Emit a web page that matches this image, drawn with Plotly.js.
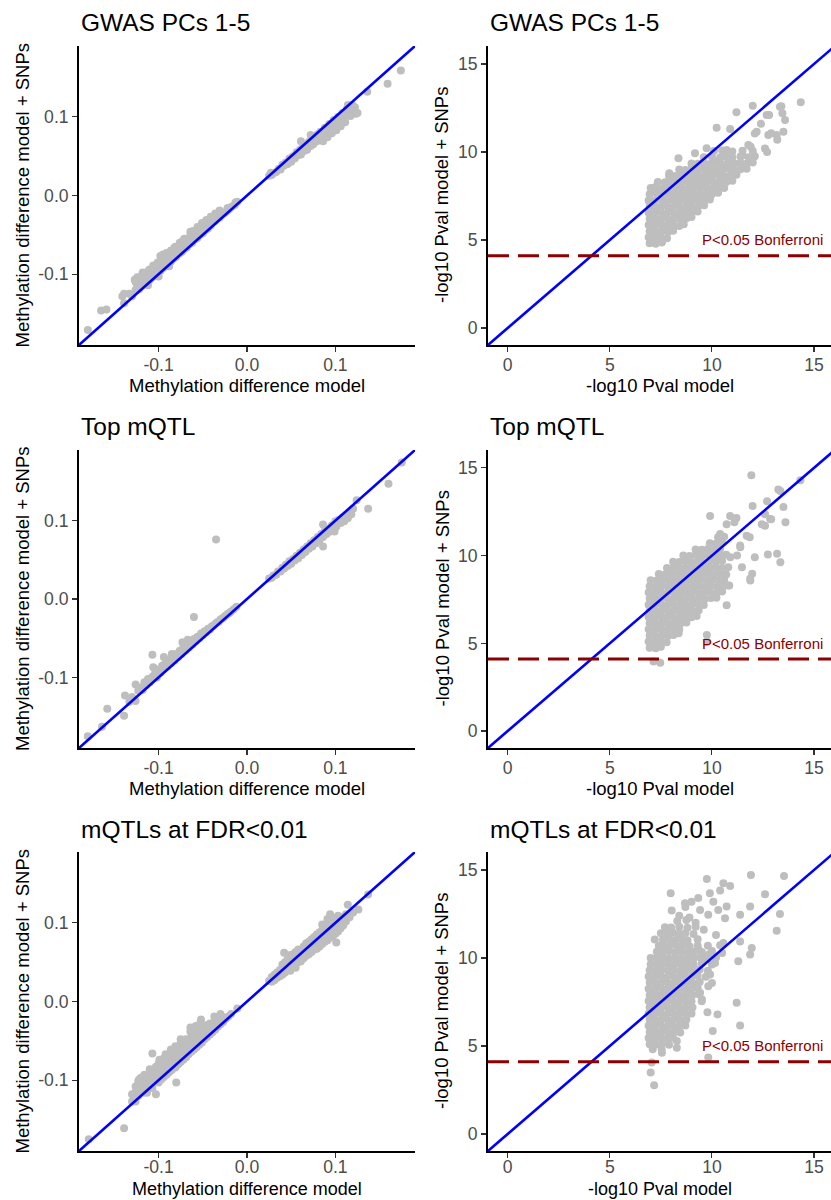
<!DOCTYPE html>
<html><head><meta charset="utf-8">
<script src="https://cdn.plot.ly/plotly-3.0.1.min.js"></script>
<style>html,body{margin:0;padding:0;background:#fff}</style>
</head><body><div id="chart" style="width:831px;height:1200px"></div>
<script>
// ---------------- data ----------------
const panelTitles = ['GWAS PCs 1-5', 'Top mQTL', 'mQTLs at FDR<0.01'];
const diffXTitle = 'Methylation difference model';
const diffYTitle = 'Methylation difference model + SNPs';
const pvalXTitle = '-log10 Pval model';
const pvalYTitle = '-log10 Pval model + SNPs';
const diffTicks = [-0.1, 0, 0.1];
const diffTickText = ['-0.1', '0.0', '0.1'];
const pvalTicks = [0, 5, 10, 15];
const pvalTickText = ['0', '5', '10', '15'];
const bonferroniY = 4.1;
const bonferroniLabel = 'P<0.05 Bonferroni';
const bonferroniLabelPos = [12.5, 5.0];

// Panel: GWAS PCs 1-5, methylation difference [model, model + SNPs]
const gwasDiff = [
[-0.180,-0.171],[-0.165,-0.146],[-0.159,-0.145],[-0.141,-0.128],[-0.139,-0.137],[-0.139,-0.125],[-0.133,-0.125],[-0.130,-0.128],
[-0.127,-0.107],[-0.126,-0.120],[-0.126,-0.110],[-0.124,-0.104],[-0.124,-0.114],[-0.122,-0.119],[-0.121,-0.104],[-0.120,-0.109],[-0.119,-0.115],[-0.118,-0.098],
[-0.117,-0.105],[-0.116,-0.112],[-0.116,-0.099],[-0.114,-0.100],[-0.113,-0.109],[-0.112,-0.114],[-0.111,-0.103],[-0.111,-0.095],[-0.110,-0.094],
[-0.110,-0.107],[-0.108,-0.096],[-0.107,-0.104],[-0.106,-0.089],[-0.105,-0.099],[-0.104,-0.102],[-0.102,-0.090],[-0.101,-0.098],[-0.101,-0.085],
[-0.100,-0.103],[-0.099,-0.093],[-0.098,-0.077],[-0.098,-0.096],[-0.096,-0.085],[-0.096,-0.080],[-0.095,-0.075],[-0.095,-0.092],[-0.093,-0.087],
[-0.092,-0.090],[-0.091,-0.073],[-0.091,-0.075],[-0.090,-0.080],[-0.089,-0.086],[-0.088,-0.090],[-0.087,-0.081],[-0.086,-0.084],[-0.086,-0.070],
[-0.084,-0.074],[-0.083,-0.080],[-0.082,-0.066],[-0.081,-0.075],[-0.081,-0.065],[-0.080,-0.078],[-0.078,-0.068],[-0.077,-0.074],[-0.076,-0.060],
[-0.075,-0.069],[-0.074,-0.072],[-0.073,-0.058],[-0.072,-0.063],[-0.071,-0.068],[-0.071,-0.055],[-0.069,-0.063],[-0.068,-0.066],
[-0.066,-0.057],[-0.065,-0.062],[-0.064,-0.050],[-0.064,-0.046],[-0.063,-0.057],[-0.062,-0.060],[-0.061,-0.045],[-0.060,-0.051],[-0.059,-0.056],
[-0.057,-0.052],[-0.056,-0.054],[-0.056,-0.040],[-0.054,-0.046],[-0.053,-0.050],[-0.051,-0.046],[-0.051,-0.035],[-0.050,-0.048],[-0.048,-0.040],
[-0.047,-0.044],[-0.046,-0.031],[-0.045,-0.040],[-0.044,-0.042],[-0.042,-0.035],[-0.041,-0.038],[-0.041,-0.027],[-0.039,-0.034],[-0.037,-0.033],
[-0.036,-0.023],[-0.035,-0.031],[-0.033,-0.028],[-0.031,-0.028],[-0.031,-0.019],[-0.029,-0.025],[-0.027,-0.023],[-0.025,-0.022],[-0.023,-0.020],
[-0.022,-0.016],[-0.021,-0.018],[-0.019,-0.016],[-0.017,-0.014],[-0.014,-0.012],[-0.013,-0.009],[-0.011,-0.008],
[0.025,0.025],[0.027,0.029],[0.028,0.026],[0.031,0.029],[0.033,0.030],[0.036,0.034],[0.038,0.033],[0.040,0.039],[0.042,0.038],
[0.044,0.042],[0.046,0.040],[0.048,0.047],[0.050,0.043],[0.052,0.050],[0.054,0.047],[0.056,0.055],[0.058,0.051],
[0.060,0.058],[0.061,0.052],[0.061,0.069],[0.063,0.061],[0.065,0.057],[0.067,0.064],[0.068,0.058],[0.070,0.068],[0.072,0.063],[0.072,0.077],
[0.074,0.071],[0.075,0.065],[0.077,0.074],[0.079,0.069],[0.080,0.078],[0.081,0.071],[0.083,0.081],[0.085,0.076],
[0.086,0.069],[0.088,0.086],[0.090,0.081],[0.091,0.074],[0.093,0.091],[0.095,0.086],[0.096,0.079],[0.098,0.096],
[0.100,0.091],[0.101,0.083],[0.103,0.100],[0.104,0.090],[0.105,0.095],[0.106,0.088],[0.108,0.105],[0.110,0.100],[0.111,0.093],
[0.113,0.110],[0.114,0.115],[0.115,0.105],[0.117,0.101],[0.119,0.115],[0.121,0.110],[0.122,0.112],[0.123,0.104],[0.125,0.105],
[0.136,0.132],[0.159,0.142],[0.174,0.159]
];

// Panel: GWAS PCs 1-5, -log10 P [model, model + SNPs]
const gwasPval = [
[6.95,4.82],[7.25,4.78],[7.55,4.85],
[6.9,5.15],[7.2,5.12],[7.5,5.18],[7.8,5.1],
[6.95,5.5],[7.25,5.47],[7.55,5.53],[7.85,5.45],[8.1,5.52],
[6.9,5.85],[7.2,5.83],[7.5,5.88],[7.8,5.82],[8.1,5.87],[8.4,5.8],[8.62,5.9],
[6.95,6.2],[7.25,6.18],[7.55,6.23],[7.85,6.17],[8.15,6.22],[8.45,6.16],[8.75,6.24],[9.0,6.3],
[6.9,6.55],[7.2,6.53],[7.5,6.58],[7.8,6.52],[8.1,6.57],[8.4,6.51],[8.7,6.56],[9.0,6.6],[9.3,6.62],
[6.95,6.9],[7.25,6.88],[7.55,6.93],[7.85,6.87],[8.15,6.92],[8.45,6.86],[8.75,6.91],[9.05,6.89],[9.35,6.94],[9.62,6.98],
[6.9,7.25],[7.2,7.23],[7.5,7.28],[7.8,7.22],[8.1,7.27],[8.4,7.21],[8.7,7.26],[9.0,7.24],[9.3,7.29],[9.6,7.23],[9.9,7.3],
[6.95,7.6],[7.3,7.62],[7.6,7.57],[7.9,7.63],[8.2,7.58],[8.5,7.61],[8.8,7.56],[9.1,7.62],[9.4,7.59],[9.7,7.63],[10.0,7.6],[10.3,7.68],
[7.0,7.95],[7.3,7.97],[7.6,7.92],[7.9,7.98],[8.2,7.93],[8.5,7.96],[8.8,7.91],[9.1,7.97],[9.4,7.94],[9.7,7.98],[10.0,7.92],[10.3,7.97],[10.6,7.95],
[7.35,8.3],[7.7,8.28],[8.0,8.33],[8.3,8.27],[8.6,8.32],[8.9,8.26],[9.2,8.31],[9.5,8.29],[9.8,8.34],[10.1,8.28],[10.4,8.32],[10.7,8.3],[11.0,8.36],
[7.9,8.65],[8.2,8.63],[8.5,8.68],[8.8,8.62],[9.1,8.67],[9.4,8.61],[9.7,8.66],[10.0,8.64],[10.3,8.69],[10.6,8.63],[10.9,8.67],[11.2,8.7],
[8.4,9.0],[8.7,8.98],[9.0,9.03],[9.3,8.97],[9.6,9.02],[9.9,8.96],[10.2,9.01],[10.5,8.99],[10.8,9.04],[11.1,8.98],[11.4,9.02],[11.7,9.05],
[9.0,9.35],[9.3,9.33],[9.6,9.38],[9.9,9.32],[10.2,9.37],[10.5,9.31],[10.8,9.36],[11.1,9.34],[11.4,9.39],[11.7,9.33],[12.0,9.4],
[9.6,9.7],[10.0,9.72],[10.4,9.68],[10.7,9.73],[11.0,9.69],[11.4,9.74],[11.8,9.7],[12.1,9.75],
[10.1,10.05],[10.5,10.08],[11.0,10.03],[11.5,10.07],[12.0,10.05],
[8.36,9.64],[9.17,9.93],[9.74,10.21],[10.23,11.38],[10.89,11.3],[11.2,12.25],[12.0,12.63],[7.91,8.79],[7.21,8.0],
[7.05,7.74],[11.78,10.4],[12.19,11.15],[12.68,12.1],[13.33,12.57],[13.58,11.82],[13.5,11.15],[13.17,10.97],
[12.76,10.97],[12.6,10.2],[14.35,12.82],[11.95,9.55],[11.46,9.26],[10.72,10.11],[10.15,9.45],[12.4,11.6],
[12.1,11.05],[12.9,11.06],[12.7,10.0],[13.2,10.7],[11.9,10.3],[11.5,9.8],[13.4,12.6],[13.45,12.2],[12.8,12.1]
];

// Panel: Top mQTL, methylation difference
const topDiff = [
[-0.180,-0.175],[-0.164,-0.163],[-0.158,-0.140],[-0.139,-0.149],[-0.138,-0.123],[-0.133,-0.131],[-0.130,-0.125],
[-0.126,-0.109],[-0.126,-0.130],[-0.123,-0.117],[-0.120,-0.113],[-0.118,-0.116],[-0.116,-0.106],[-0.114,-0.110],
[-0.112,-0.102],[-0.110,-0.106],[-0.107,-0.071],[-0.106,-0.087],[-0.107,-0.099],[-0.104,-0.095],[-0.102,-0.100],
[-0.100,-0.090],[-0.098,-0.094],[-0.096,-0.085],[-0.094,-0.074],[-0.094,-0.089],[-0.092,-0.081],[-0.090,-0.086],
[-0.088,-0.077],[-0.086,-0.082],[-0.085,-0.070],[-0.084,-0.074],[-0.082,-0.078],[-0.080,-0.070],[-0.078,-0.074],
[-0.076,-0.066],[-0.074,-0.070],[-0.073,-0.055],[-0.072,-0.062],[-0.070,-0.066],[-0.068,-0.059],[-0.067,-0.052],
[-0.066,-0.062],[-0.064,-0.055],[-0.062,-0.058],[-0.060,-0.051],[-0.060,-0.023],[-0.058,-0.054],[-0.056,-0.048],
[-0.054,-0.050],[-0.052,-0.044],[-0.050,-0.046],[-0.048,-0.041],[-0.046,-0.042],[-0.044,-0.038],[-0.042,-0.039],
[-0.040,-0.035],[-0.038,-0.034],[-0.036,-0.032],[-0.034,-0.030],[-0.032,-0.029],[-0.030,-0.026],[-0.028,-0.025],
[-0.026,-0.023],[-0.024,-0.021],[-0.022,-0.019],[-0.020,-0.018],[-0.018,-0.016],[-0.015,-0.013],[-0.012,-0.010],
[-0.035,0.076],
[0.025,0.026],[0.028,0.027],[0.030,0.030],[0.033,0.031],[0.035,0.035],[0.038,0.035],[0.040,0.040],[0.042,0.039],
[0.044,0.044],[0.046,0.042],[0.048,0.048],[0.050,0.045],[0.052,0.051],[0.054,0.049],[0.056,0.055],[0.058,0.052],
[0.060,0.059],[0.062,0.056],[0.064,0.063],[0.066,0.060],[0.068,0.067],[0.070,0.064],[0.072,0.071],[0.074,0.067],
[0.076,0.075],[0.078,0.071],[0.080,0.079],[0.082,0.075],[0.084,0.083],[0.086,0.067],[0.086,0.079],[0.086,0.095],
[0.088,0.087],[0.090,0.083],[0.092,0.090],[0.094,0.086],[0.096,0.094],[0.098,0.089],[0.099,0.086],[0.100,0.099],
[0.101,0.092],[0.104,0.101],[0.106,0.097],[0.108,0.104],[0.110,0.099],[0.112,0.107],[0.114,0.103],[0.116,0.111],
[0.118,0.108],[0.120,0.115],[0.124,0.126],[0.137,0.115],[0.160,0.147],[0.175,0.174]
];

// Panel: Top mQTL, -log10 P
const topPval = [
[6.95,4.75],[7.25,4.72],[7.5,4.8],
[6.9,5.1],[7.2,5.08],[7.5,5.13],[7.78,5.06],
[6.95,5.45],[7.25,5.43],[7.55,5.48],[7.85,5.42],[8.12,5.47],
[6.9,5.8],[7.2,5.78],[7.5,5.83],[7.8,5.77],[8.1,5.82],[8.4,5.79],
[6.95,6.15],[7.25,6.13],[7.55,6.18],[7.85,6.12],[8.15,6.17],[8.45,6.11],[8.75,6.19],
[6.9,6.5],[7.2,6.48],[7.5,6.53],[7.8,6.47],[8.1,6.52],[8.4,6.46],[8.7,6.51],[9.0,6.49],[9.25,6.56],
[6.95,6.85],[7.25,6.83],[7.55,6.88],[7.85,6.82],[8.15,6.87],[8.45,6.81],[8.75,6.86],[9.05,6.84],[9.35,6.89],
[6.9,7.2],[7.2,7.18],[7.5,7.23],[7.8,7.17],[8.1,7.22],[8.4,7.16],[8.7,7.21],[9.0,7.19],[9.3,7.24],[9.6,7.18],
[6.95,7.55],[7.25,7.53],[7.55,7.58],[7.85,7.52],[8.15,7.57],[8.45,7.51],[8.75,7.56],[9.05,7.54],[9.35,7.59],[9.65,7.53],[9.95,7.58],[10.22,7.6],
[6.9,7.9],[7.2,7.88],[7.5,7.93],[7.8,7.87],[8.1,7.92],[8.4,7.86],[8.7,7.91],[9.0,7.89],[9.3,7.94],[9.6,7.88],[9.9,7.93],[10.2,7.87],[10.5,7.95],
[6.95,8.25],[7.25,8.23],[7.55,8.28],[7.85,8.22],[8.15,8.27],[8.45,8.21],[8.75,8.26],[9.05,8.24],[9.35,8.29],[9.65,8.23],[9.95,8.28],[10.25,8.22],[10.55,8.27],[10.85,8.3],
[7.0,8.6],[7.3,8.58],[7.6,8.63],[7.9,8.57],[8.2,8.62],[8.5,8.56],[8.8,8.61],[9.1,8.59],[9.4,8.64],[9.7,8.58],[10.0,8.63],[10.3,8.57],[10.6,8.62],
[7.4,8.95],[7.7,8.93],[8.0,8.98],[8.3,8.92],[8.6,8.97],[8.9,8.91],[9.2,8.96],[9.5,8.94],[9.8,8.99],[10.1,8.93],[10.4,8.98],[10.7,8.92],
[7.8,9.3],[8.1,9.28],[8.4,9.33],[8.7,9.27],[9.0,9.32],[9.3,9.26],[9.6,9.31],[9.9,9.29],[10.2,9.34],[10.5,9.28],[10.8,9.33],
[8.1,9.65],[8.4,9.63],[8.7,9.68],[9.0,9.62],[9.3,9.67],[9.6,9.61],[9.9,9.66],[10.2,9.64],[10.5,9.69],
[8.6,10.0],[8.9,9.98],[9.2,10.03],[9.5,9.97],[9.8,10.02],[10.1,9.96],[10.4,10.01],[10.7,10.05],
[9.2,10.35],[9.5,10.33],[9.8,10.38],[10.1,10.32],[10.4,10.37],
[9.9,10.7],[10.2,10.68],[10.5,10.73],
[10.3,11.05],[10.6,11.08],
[9.91,12.26],[11.93,14.58],[13.35,13.68],[14.33,14.3],[11.99,12.83],[12.7,13.1],[13.5,12.77],[12.6,12.36],
[12.9,12.07],[13.6,11.9],[12.6,11.7],[12.74,10.06],[13.19,10.1],[13.35,9.62],[12.1,9.9],[11.88,8.58],[11.97,8.96],
[10.79,8.3],[10.2,7.64],[9.76,5.09],[8.37,5.57],[11.85,11.04],[11.39,10.47],[11.23,10.0],[11.47,9.34],[10.9,9.9],
[7.14,3.96],[7.47,3.9],[11.38,10.57],[11.7,11.13],[12.44,11.79],[12.85,12.08],[13.25,13.77],[10.72,11.79],
[10.89,12.26],[10.4,11.23],[10.72,7.17],[9.75,5.47],[11.87,8.68],[11.1,11.9],[11.2,12.15]
];

// Panel: mQTLs at FDR<0.01, methylation difference
const fdrDiff = [
[-0.179,-0.175],[-0.139,-0.161],[-0.130,-0.127],[-0.130,-0.118],[-0.126,-0.127],[-0.126,-0.115],[-0.126,-0.108],
[-0.123,-0.101],[-0.123,-0.120],[-0.122,-0.099],[-0.120,-0.112],[-0.120,-0.104],[-0.120,-0.097],[-0.117,-0.116],[-0.117,-0.108],
[-0.117,-0.100],[-0.116,-0.093],[-0.113,-0.116],[-0.113,-0.104],[-0.113,-0.095],[-0.110,-0.106],[-0.110,-0.098],[-0.110,-0.090],[-0.110,-0.086],
[-0.107,-0.066],[-0.107,-0.110],[-0.107,-0.101],[-0.107,-0.093],[-0.103,-0.118],[-0.103,-0.098],[-0.103,-0.090],
[-0.103,-0.083],[-0.100,-0.103],[-0.100,-0.094],[-0.100,-0.086],[-0.100,-0.079],[-0.099,-0.074],[-0.097,-0.099],[-0.097,-0.090],
[-0.097,-0.082],[-0.094,-0.096],[-0.094,-0.087],[-0.094,-0.079],[-0.094,-0.072],[-0.092,-0.067],[-0.091,-0.093],[-0.091,-0.084],
[-0.091,-0.076],[-0.088,-0.090],[-0.088,-0.081],[-0.088,-0.073],[-0.088,-0.067],[-0.086,-0.061],[-0.085,-0.087],[-0.085,-0.078],
[-0.085,-0.070],[-0.081,-0.057],[-0.081,-0.084],[-0.081,-0.075],[-0.081,-0.067],[-0.080,-0.103],[-0.078,-0.080],
[-0.078,-0.071],[-0.078,-0.063],[-0.075,-0.077],[-0.075,-0.068],[-0.075,-0.060],[-0.075,-0.053],[-0.075,-0.048],[-0.072,-0.074],
[-0.072,-0.065],[-0.072,-0.057],[-0.069,-0.071],[-0.069,-0.062],[-0.069,-0.054],[-0.069,-0.048],[-0.066,-0.067],
[-0.066,-0.059],[-0.066,-0.051],[-0.064,-0.033],[-0.064,-0.038],[-0.063,-0.064],[-0.063,-0.056],[-0.063,-0.048],[-0.063,-0.041],
[-0.060,-0.061],[-0.060,-0.053],[-0.060,-0.045],[-0.058,-0.031],[-0.057,-0.058],[-0.057,-0.050],[-0.057,-0.042],[-0.057,-0.036],
[-0.054,-0.055],[-0.054,-0.047],[-0.054,-0.039],[-0.053,-0.028],[-0.052,-0.023],[-0.051,-0.052],[-0.051,-0.044],[-0.051,-0.036],
[-0.048,-0.048],[-0.048,-0.041],[-0.048,-0.033],[-0.045,-0.045],[-0.045,-0.038],[-0.045,-0.030],[-0.042,-0.042],
[-0.042,-0.035],[-0.042,-0.028],[-0.039,-0.039],[-0.039,-0.032],[-0.037,-0.019],[-0.036,-0.036],[-0.036,-0.029],
[-0.036,-0.023],[-0.033,-0.032],[-0.033,-0.026],[-0.030,-0.029],[-0.030,-0.023],[-0.030,-0.016],[-0.027,-0.026],
[-0.027,-0.020],[-0.024,-0.022],[-0.021,-0.019],[-0.018,-0.016],[-0.011,-0.009],
[0.025,0.026],[0.028,0.025],[0.028,0.031],[0.031,0.027],[0.031,0.034],[0.034,0.030],[0.034,0.037],[0.037,0.032],
[0.037,0.040],[0.040,0.034],[0.040,0.041],[0.040,0.047],[0.042,0.062],[0.043,0.037],[0.043,0.044],[0.043,0.050],
[0.046,0.040],[0.046,0.047],[0.046,0.054],[0.049,0.039],[0.049,0.045],[0.049,0.052],[0.049,0.059],[0.052,0.045],
[0.052,0.052],[0.052,0.060],[0.055,0.043],[0.055,0.049],[0.055,0.056],[0.055,0.063],[0.058,0.050],[0.058,0.058],
[0.058,0.066],[0.061,0.051],[0.061,0.058],[0.061,0.065],[0.064,0.055],[0.064,0.063],[0.064,0.070],[0.067,0.058],
[0.067,0.066],[0.067,0.074],[0.070,0.060],[0.070,0.068],[0.070,0.076],[0.073,0.063],[0.073,0.071],[0.073,0.079],
[0.076,0.066],[0.076,0.074],[0.076,0.082],[0.079,0.067],[0.079,0.076],[0.079,0.085],[0.082,0.070],[0.082,0.079],
[0.082,0.088],[0.085,0.073],[0.085,0.082],[0.085,0.091],[0.085,0.098],[0.088,0.076],[0.088,0.085],[0.088,0.094],
[0.091,0.078],[0.091,0.087],[0.091,0.097],[0.091,0.105],[0.094,0.081],[0.094,0.090],[0.094,0.100],[0.094,0.111],
[0.097,0.083],[0.097,0.093],[0.097,0.103],[0.100,0.086],[0.100,0.096],[0.100,0.106],[0.101,0.075],[0.103,0.089],
[0.103,0.099],[0.103,0.109],[0.106,0.093],[0.106,0.103],[0.109,0.097],[0.109,0.107],[0.112,0.102],[0.112,0.111],
[0.114,0.123],[0.116,0.107],[0.120,0.113],[0.126,0.117],[0.137,0.136]
];

// Panel: mQTLs at FDR<0.01, -log10 P
const fdrPval = [
[6.95,5.1],[7.25,5.08],[7.55,5.13],[7.9,5.07],
[6.9,5.45],[7.2,5.43],[7.5,5.48],[7.8,5.42],[8.1,5.47],
[6.95,5.8],[7.25,5.78],[7.55,5.83],[7.85,5.77],[8.15,5.82],[8.45,5.76],
[6.9,6.15],[7.2,6.13],[7.5,6.18],[7.8,6.12],[8.1,6.17],[8.4,6.11],[8.7,6.16],
[6.95,6.5],[7.25,6.48],[7.55,6.53],[7.85,6.47],[8.15,6.52],[8.45,6.46],[8.75,6.51],
[6.9,6.85],[7.2,6.83],[7.5,6.88],[7.8,6.82],[8.1,6.87],[8.4,6.81],[8.7,6.86],[9.0,6.84],
[6.95,7.2],[7.25,7.18],[7.55,7.23],[7.85,7.17],[8.15,7.22],[8.45,7.16],[8.75,7.21],[9.05,7.19],
[6.9,7.55],[7.2,7.53],[7.5,7.58],[7.8,7.52],[8.1,7.57],[8.4,7.51],[8.7,7.56],[9.0,7.54],
[6.95,7.9],[7.25,7.88],[7.55,7.93],[7.85,7.87],[8.15,7.92],[8.45,7.86],[8.75,7.91],[9.05,7.89],[9.35,7.94],
[6.9,8.25],[7.2,8.23],[7.5,8.28],[7.8,8.22],[8.1,8.27],[8.4,8.21],[8.7,8.26],[9.0,8.24],[9.3,8.29],
[6.95,8.6],[7.25,8.58],[7.55,8.63],[7.85,8.57],[8.15,8.62],[8.45,8.56],[8.75,8.61],[9.05,8.59],[9.4,8.64],
[6.9,8.95],[7.2,8.93],[7.5,8.98],[7.8,8.92],[8.1,8.97],[8.4,8.91],[8.7,8.96],[9.0,8.94],[9.3,8.99],[9.7,8.93],
[6.95,9.3],[7.25,9.28],[7.55,9.33],[7.85,9.27],[8.15,9.32],[8.45,9.26],[8.75,9.31],[9.05,9.29],[9.4,9.34],[9.8,9.28],
[7.0,9.65],[7.3,9.63],[7.6,9.68],[7.9,9.62],[8.2,9.67],[8.5,9.61],[8.8,9.66],[9.1,9.64],[9.5,9.69],[10.0,9.63],
[7.0,10.0],[7.3,9.98],[7.6,10.03],[7.9,9.97],[8.2,10.02],[8.5,9.96],[8.8,10.01],[9.1,9.99],[9.4,10.04],[9.7,9.98],[10.2,10.02],
[7.3,10.35],[7.6,10.33],[7.9,10.38],[8.2,10.32],[8.5,10.37],[8.8,10.31],[9.1,10.36],[9.5,10.34],[10.0,10.39],
[7.4,10.7],[7.7,10.68],[8.0,10.73],[8.3,10.67],[8.6,10.72],[8.9,10.66],[9.3,10.71],[9.8,10.69],[10.4,10.72],
[7.2,11.05],[7.6,11.03],[7.9,11.08],[8.2,11.02],[8.5,11.07],[8.8,11.01],[9.3,11.06],
[7.5,11.4],[7.8,11.38],[8.1,11.43],[8.4,11.37],[8.7,11.42],[9.1,11.36],
[7.7,11.75],[8.0,11.73],[8.4,11.78],[8.8,11.72],[9.2,11.77],
[8.3,12.1],[8.75,12.15],
[7.98,13.68],[9.75,14.49],[11.91,14.71],[13.53,14.66],[12.6,13.62],[13.33,12.5],[13.17,11.55],[10.56,14.24],
[10.89,14.09],[10.4,13.83],[9.9,13.68],[9.33,13.4],[9.0,13.2],[8.68,13.11],[8.03,12.7],[9.42,12.73],[10.07,13.2],
[10.31,12.73],[10.72,12.92],[10.64,12.26],[9.82,12.45],[11.38,12.45],[11.87,12.92],[11.95,10.57],[11.87,10.19],
[11.38,10.94],[11.29,9.81],[10.56,10.85],[10.15,9.72],[9.91,9.06],[9.82,8.39],[9.42,8.02],[9.5,7.54],[11.21,7.45],
[10.27,6.79],[9.78,6.92],[11.38,6.17],[10.04,5.85],[9.82,4.34],[8.28,5.28],[8.28,4.9],[7.1,4.81],[7.05,4.06],
[7.0,3.49],[7.17,2.77],[7.54,4.81],[7.55,4.62],[8.7,12.9],[9.35,10.47],[9.84,10.19],[10.5,10.28],[10.0,8.58],
[9.51,7.64],[8.4,12.4],[8.9,12.3],[9.2,12.0],[9.6,11.6],[10.2,11.3]
];

// ---------------- layout helpers ----------------
const W = 831, H = 1200;
const colPx = [[79, 415], [488, 831]];
const rowPx = [[46, 345], [450, 748], [852, 1151]];
const titlePy = [22.5, 426, 829.5];
const xTitlePy = [385.5, 788, 1200];
const xTitleAnchor = ['middle', 'middle', 'bottom'];
const xTitleSize = [18.5, 18.5, 18];
const xTickStandoff = [-2, -2, -6];
const yTitlePx = [22, 441.5];
const diffRange = [-0.19, 0.19];
const pvalXRange = [-0.965, 15.83];
const pvalYRange = [-0.966, 16.02];

const panels = [
  {pts: gwasDiff, kind: 'diff'}, {pts: gwasPval, kind: 'pval'},
  {pts: topDiff, kind: 'diff'}, {pts: topPval, kind: 'pval'},
  {pts: fdrDiff, kind: 'diff'}, {pts: fdrPval, kind: 'pval'}
];

const FONT = 'Liberation Sans, Arial, sans-serif';
const traces = [], annotations = [], shapes = [];
const layout = {
  width: W, height: H, autosize: false,
  margin: {l: 0, r: 0, t: 0, b: 0},
  paper_bgcolor: '#ffffff', plot_bgcolor: '#ffffff',
  showlegend: false,
  font: {family: FONT}
};

panels.forEach((p, i) => {
  const row = Math.floor(i / 2), col = i % 2, n = i + 1;
  const sfx = n === 1 ? '' : String(n);
  const xr = p.kind === 'diff' ? diffRange : pvalXRange;
  const yr = p.kind === 'diff' ? diffRange : pvalYRange;
  const common = {
    showgrid: false, zeroline: false, showline: true, linecolor: '#000000', linewidth: 1.9,
    ticks: 'outside', ticklen: 5, tickwidth: 1.1, tickcolor: '#333333',
    tickfont: {family: FONT, size: 17.6, color: '#4D4D4D'},
    fixedrange: true
  };
  layout['xaxis' + sfx] = Object.assign({}, common, {
    domain: [colPx[col][0] / W, colPx[col][1] / W], anchor: 'y' + sfx, range: xr,
    tickmode: 'array', ticklabelstandoff: xTickStandoff[row],
    tickvals: p.kind === 'diff' ? diffTicks : pvalTicks,
    ticktext: p.kind === 'diff' ? diffTickText : pvalTickText
  });
  layout['yaxis' + sfx] = Object.assign({}, common, {
    domain: [1 - rowPx[row][1] / H, 1 - rowPx[row][0] / H], anchor: 'x' + sfx, range: yr,
    tickmode: 'array',
    tickvals: p.kind === 'diff' ? diffTicks : pvalTicks,
    ticktext: p.kind === 'diff' ? diffTickText : pvalTickText
  });

  traces.push({
    type: 'scatter', mode: 'markers', xaxis: 'x' + sfx, yaxis: 'y' + sfx,
    x: p.pts.map(d => d[0]), y: p.pts.map(d => d[1]),
    marker: {color: '#BEBEBE', size: 8, line: {width: 0}},
    hoverinfo: 'skip', cliponaxis: true
  });
  const lo = Math.min(xr[0], yr[0]), hi = Math.max(xr[1], yr[1]);
  traces.push({
    type: 'scatter', mode: 'lines', xaxis: 'x' + sfx, yaxis: 'y' + sfx,
    x: [lo, hi], y: [lo, hi],
    line: {color: '#0000FF', width: 2.6}, hoverinfo: 'skip'
  });
  if (p.kind === 'pval') {
    shapes.push({
      type: 'line', xref: 'x' + sfx + ' domain', yref: 'y' + sfx,
      x0: 0, x1: 1, y0: bonferroniY, y1: bonferroniY,
      line: {color: '#8B0000', width: 3, dash: '21px,9px'}
    });
    annotations.push({
      xref: 'x' + sfx, yref: 'y' + sfx, x: bonferroniLabelPos[0], y: bonferroniLabelPos[1],
      text: bonferroniLabel, showarrow: false, xanchor: 'center', yanchor: 'middle',
      font: {family: FONT, size: 15, color: '#8B0000'}
    });
  }
  annotations.push({
    xref: 'paper', yref: 'paper', x: colPx[col][0] / W, y: 1 - titlePy[row] / H,
    text: panelTitles[row], showarrow: false, xanchor: 'left', yanchor: 'middle',
    font: {family: FONT, size: 24.5, color: '#000000'}
  });
  annotations.push({
    xref: 'paper', yref: 'paper', x: (colPx[col][0] + colPx[col][1]) / 2 / W, y: 1 - xTitlePy[row] / H,
    text: p.kind === 'diff' ? diffXTitle : pvalXTitle, showarrow: false, xanchor: 'center', yanchor: xTitleAnchor[row],
    borderpad: 0,
    font: {family: FONT, size: xTitleSize[row], color: '#000000'}
  });
  annotations.push({
    xref: 'paper', yref: 'paper', x: yTitlePx[col] / W, y: 1 - (rowPx[row][0] + rowPx[row][1]) / 2 / H,
    text: p.kind === 'diff' ? diffYTitle : pvalYTitle, showarrow: false, xanchor: 'center', yanchor: 'middle',
    textangle: -90, font: {family: FONT, size: 18.5, color: '#000000'}
  });
});

layout.annotations = annotations;
layout.shapes = shapes;
Plotly.newPlot('chart', traces, layout, {displayModeBar: false, staticPlot: true});
</script>
</body></html>
